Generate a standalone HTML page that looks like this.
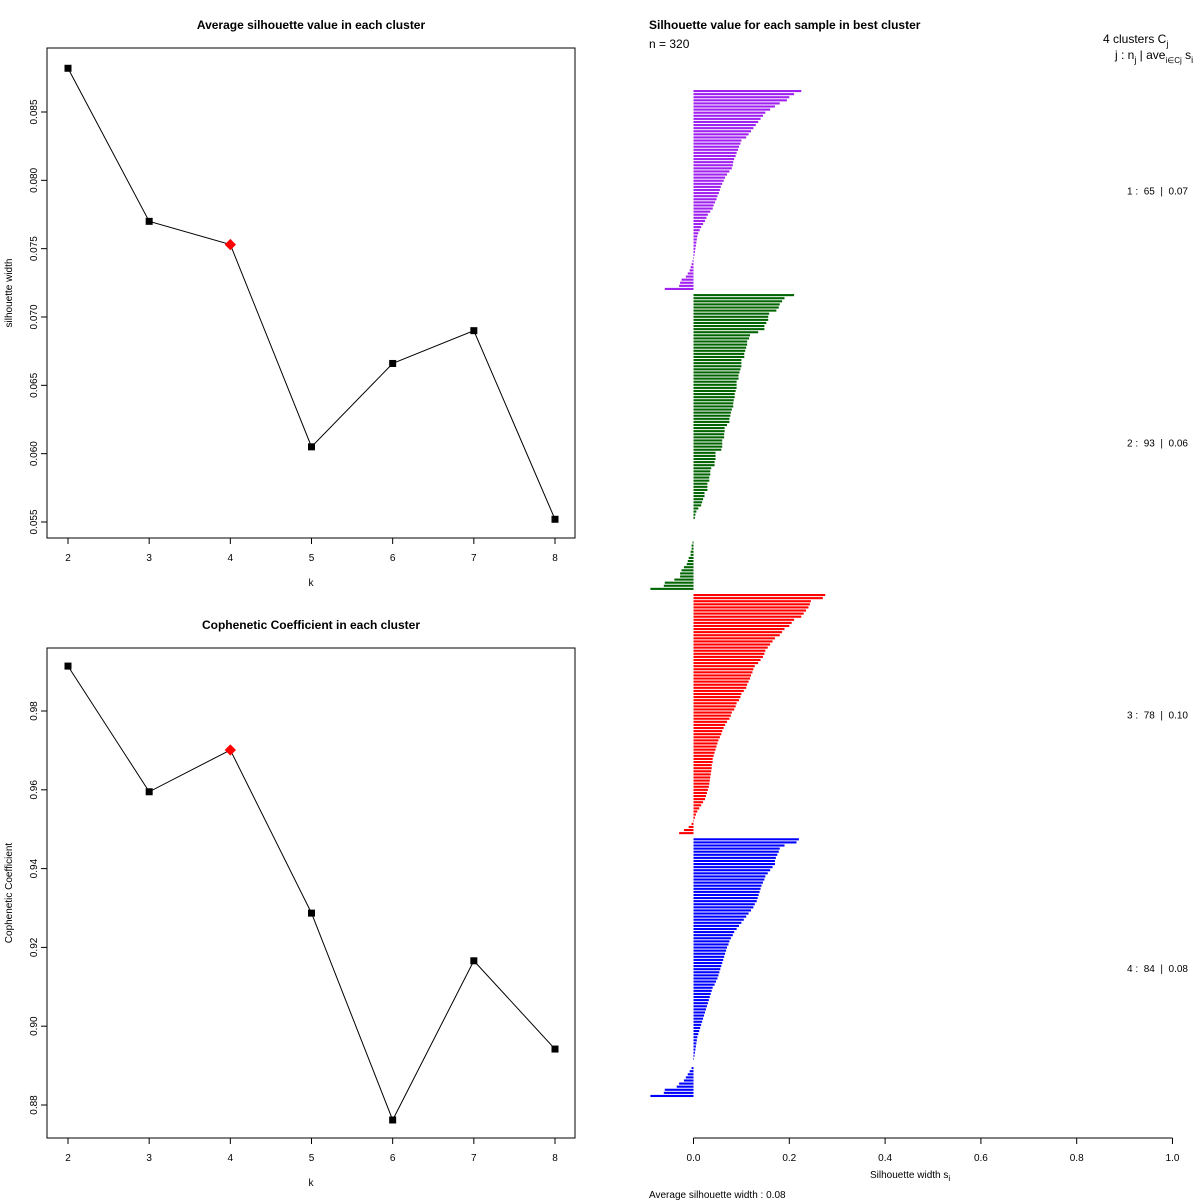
<!DOCTYPE html>
<html><head><meta charset="utf-8"><style>
body{margin:0;background:#fff;width:1200px;height:1200px;overflow:hidden;position:relative}
svg{font-family:"Liberation Sans",sans-serif;display:block}
</style></head><body>
<svg id="s" width="1200" height="1200" xmlns="http://www.w3.org/2000/svg"></svg>
<script>
const ks=[2,3,4,5,6,7,8];
const silAvg=[0.0882,0.0770,0.0753,0.0605,0.0666,0.0690,0.0552];
const coph=[0.9914,0.9595,0.9701,0.9287,0.8762,0.9166,0.8942];
const bestK=4;
const silTicks=[0.055,0.060,0.065,0.070,0.075,0.080,0.085];
const cophTicks=[0.88,0.90,0.92,0.94,0.96,0.98];
const c1=[0.225,0.21,0.2,0.195,0.18,0.17,0.16,0.15,0.145,0.14,0.135,0.13,0.125,0.12,0.115,0.11,0.1,0.098,0.095,0.093,0.09,0.088,0.085,0.083,0.082,0.08,0.075,0.07,0.066,0.063,0.06,0.057,0.055,0.053,0.05,0.048,0.045,0.042,0.04,0.035,0.03,0.027,0.024,0.02,0.016,0.013,0.01,0.008,0.007,0.006,0.005,0.004,0.003,0.002,0.001,-0.002,-0.004,-0.006,-0.008,-0.012,-0.016,-0.025,-0.028,-0.03,-0.06];
const c2=[0.21,0.19,0.185,0.18,0.178,0.173,0.158,0.156,0.156,0.152,0.148,0.148,0.135,0.118,0.116,0.112,0.112,0.11,0.108,0.106,0.106,0.1,0.1,0.1,0.098,0.096,0.094,0.094,0.09,0.09,0.09,0.088,0.086,0.086,0.084,0.083,0.083,0.08,0.078,0.077,0.075,0.075,0.07,0.065,0.065,0.064,0.064,0.06,0.06,0.06,0.058,0.046,0.046,0.046,0.044,0.044,0.037,0.035,0.035,0.033,0.033,0.029,0.029,0.029,0.023,0.023,0.02,0.018,0.016,0.01,0.006,0.004,0.003,
0.0,0.0,0.0,0.0,0.0,0.0,0.0,
-0.002,-0.004,-0.004,-0.006,-0.006,-0.01,-0.012,-0.014,-0.02,-0.025,-0.028,-0.028,-0.04,-0.06,-0.062,-0.09];
const c3=[0.275,0.27,0.245,0.243,0.24,0.235,0.23,0.225,0.21,0.205,0.2,0.19,0.185,0.18,0.17,0.165,0.16,0.155,0.15,0.148,0.145,0.14,0.135,0.128,0.125,0.123,0.12,0.118,0.115,0.112,0.11,0.105,0.1,0.098,0.095,0.09,0.088,0.085,0.08,0.078,0.075,0.07,0.066,0.063,0.06,0.058,0.055,0.052,0.05,0.048,0.046,0.044,0.042,0.04,0.04,0.038,0.038,0.037,0.036,0.035,0.034,0.033,0.032,0.03,0.028,0.026,0.024,0.02,0.016,0.012,0.008,0.005,0.003,0.001,-0.004,-0.01,-0.02,-0.03];
const c4=[0.22,0.215,0.19,0.18,0.178,0.175,0.172,0.17,0.17,0.165,0.16,0.155,0.15,0.148,0.145,0.142,0.14,0.138,0.136,0.134,0.132,0.128,0.125,0.12,0.115,0.11,0.105,0.1,0.095,0.09,0.085,0.082,0.078,0.075,0.073,0.07,0.068,0.066,0.064,0.062,0.06,0.058,0.056,0.054,0.052,0.05,0.047,0.044,0.04,0.038,0.036,0.034,0.032,0.03,0.028,0.026,0.024,0.022,0.02,0.018,0.016,0.014,0.012,0.01,0.008,0.007,0.006,0.005,0.004,0.003,0.002,0.001,
0,0,
-0.004,-0.008,-0.012,-0.016,-0.02,-0.03,-0.035,-0.06,-0.062,-0.09];
const clusters=[c1,c2,c3,c4];
const clusterColors=["#a020f0","#006400","#ff0000","#0000ff"];
const clusterLabels=["1 :  65  |  0.07","2 :  93  |  0.06","3 :  78  |  0.10","4 :  84  |  0.08"];
const xTicks=[0,0.2,0.4,0.6,0.8,1.0];

const S=document.getElementById('s');const NS="http://www.w3.org/2000/svg";
function el(t,a,txt){const e=document.createElementNS(NS,t);for(const k in a)e.setAttribute(k,a[k]);if(txt!=null)e.textContent=txt;S.appendChild(e);return e;}

function panel(vals,ticks,T,vA,yA,vB,yB,title,ytitle,pfx){
  const L=47,R=575,B=T+490;
  const px=k=>68+(k-2)*(555-68)/6;
  const py=v=>yA+(v-vA)*(yB-yA)/(vB-vA);
  let e=el('rect',{x:L,y:T,width:R-L,height:B-T,fill:'none',stroke:'#000','stroke-width':1});
  
  
  e=el('text',{x:311,y:T-19,'text-anchor':'middle','font-size':12,'font-weight':'bold'},title);
  
  
  e=el('text',{x:311,y:B+48,'text-anchor':'middle','font-size':10},'k');
  
  
  e=el('text',{x:0,y:0,'text-anchor':'middle','font-size':10,transform:`translate(12,${T+245}) rotate(-90)`},ytitle);
  
  
  ks.forEach(k=>{
    el('line',{x1:px(k),x2:px(k),y1:B,y2:B+6,stroke:'#000'});
    e=el('text',{x:px(k),y:B+23,'text-anchor':'middle','font-size':10},String(k));
    
    
  });
  ticks.forEach(v=>{
    const y=py(v);
    el('line',{x1:L,x2:L-6,y1:y,y2:y,stroke:'#000'});
    e=el('text',{x:0,y:0,'text-anchor':'middle','font-size':10,transform:`translate(37,${y}) rotate(-90)`},v.toFixed(pfx==='sil'?3:2));
    
    
  });
  e=el('polyline',{points:ks.map((k,i)=>px(k)+','+py(vals[i])).join(' '),fill:'none',stroke:'#000','stroke-width':1});
  
  
  ks.forEach((k,i)=>{
    const x=px(k),y=py(vals[i]);
    if(k===bestK){e=el('rect',{x:x-4,y:y-4,width:8,height:8,fill:'#f00',transform:`rotate(45 ${x} ${y})`});}
    else e=el('rect',{x:x-3.5,y:y-3.5,width:7,height:7,fill:'#000'});
    
    
  });
}
panel(silAvg,silTicks,48,0.085,112,0.055,522,'Average silhouette value in each cluster','silhouette width','sil');
panel(coph,cophTicks,648,0.98,711,0.88,1105,'Cophenetic Coefficient in each cluster','Cophenetic Coefficient','coph');

const x0=693.5,xs=479;
const bx=v=>x0+v*xs;
const total=clusters.reduce((a,c)=>a+c.length,0)+clusters.length-1;
const pitch=(1098-90)/total;
let idx=0;
clusters.forEach((c,ci)=>{
  const yStart=90+idx*pitch;
  c.forEach((v,i)=>{
    const y=90+idx*pitch;
    const a=bx(0),b=bx(v);
    if(v!==0){
      const e=el('rect',{x:Math.min(a,b),y:y,width:Math.abs(b-a),height:pitch*0.68,fill:clusterColors[ci]});
      
      
    }
    idx++;
  });
  const yEnd=90+idx*pitch;
  const e=el('text',{x:1188,y:(yStart+yEnd)/2+4,'text-anchor':'end','font-size':10,style:'white-space:pre'},clusterLabels[ci]);
  
  
  idx++;
});
el('line',{x1:bx(0),x2:bx(1),y1:1138,y2:1138,stroke:'#000'});
xTicks.forEach(v=>{
  el('line',{x1:bx(v),x2:bx(v),y1:1138,y2:1144,stroke:'#000'});
  const e=el('text',{x:bx(v),y:1161,'text-anchor':'middle','font-size':10},v.toFixed(1));
  
  
});
</script>
<svg width="1200" height="1200" style="position:absolute;left:0;top:0" xmlns="http://www.w3.org/2000/svg" font-family="Liberation Sans, sans-serif">
<text x="649" y="29" font-size="12" font-weight="bold">Silhouette value for each sample in best cluster</text>
<text x="649" y="48" font-size="12">n = 320</text>
<text x="1103" y="43" font-size="12">4  clusters  C<tspan font-size="9" dy="4">j</tspan></text>
<text x="1115" y="59" font-size="12">j :  n<tspan font-size="9" dy="4">j</tspan><tspan dy="-4"> | ave</tspan><tspan font-size="8" dy="4">i∈Cj</tspan><tspan dy="-4">  s</tspan><tspan font-size="9" dy="4">i</tspan></text>
<text x="870" y="1178" font-size="10">Silhouette width s<tspan font-size="8" dy="3">i</tspan></text>
<text x="649" y="1198" font-size="10">Average silhouette width :  0.08</text>
</svg>
</body></html>
